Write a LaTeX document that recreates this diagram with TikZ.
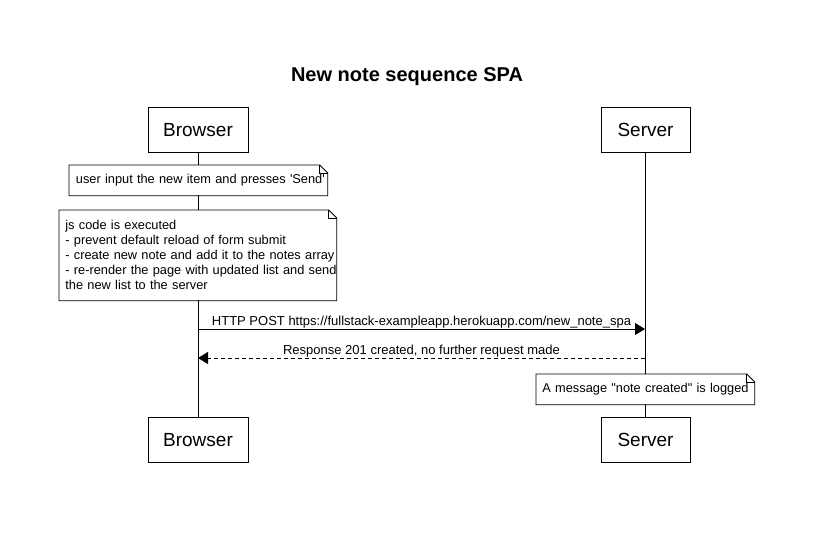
\documentclass[tikz,border=0pt]{standalone}
\usepackage{fontspec}
\setmainfont{Liberation Sans}
\usetikzlibrary{arrows.meta}

% folded corner of a note
\newcommand\notefold[1]{%
  \draw (#1.north west) -- ([xshift=-8pt]#1.north east) -- ([yshift=-8pt]#1.north east)
        -- (#1.south east) -- (#1.south west) -- cycle;
  \draw ([xshift=-8pt]#1.north east) -- ([xshift=-8pt,yshift=-8pt]#1.north east)
        -- ([yshift=-8pt]#1.north east);
}

\begin{document}
\begin{tikzpicture}[x=1pt, y=-1pt, line width=0.8pt,
    >={Triangle[length=10pt,width=12pt]},
    actor/.style={draw, fill=white, minimum width=100pt, minimum height=45pt,
                  inner sep=0pt, font=\fontsize{19}{22}\selectfont},
    note/.style={fill=white, anchor=north west, align=left, inner xsep=6pt,
                 inner ysep=0pt, font=\fontsize{12.8}{15}\selectfont},
    msg/.style={font=\fontsize{13}{15}\selectfont, inner sep=0.5pt}]
    \useasboundingbox (0,0) rectangle (823,542);

    % Title
    \node[font=\fontsize{20}{24}\selectfont\bfseries] (title) at (407,77) {New note sequence SPA};

    % Actors
    \node[actor] (btop) at (198,130) {Browser};
    \node[actor, minimum width=89pt] (stop) at (645.5,130) {Server};
    \node[actor] (bbot) at (198,440) {Browser};
    \node[actor, minimum width=89pt] (sbot) at (645.5,440) {Server};

    % Lifelines
    \draw (btop) -- (bbot);
    \draw (stop) -- (sbot);

    % Notes on the browser side
    \node[note, text width=245pt, minimum height=30pt, inner xsep=6.5pt] (input) at (69,165)
        {\mbox{user input the new item and presses \textquotesingle Send\textquotesingle}};
    \notefold{input}
    \node[note, text width=265pt, minimum height=90pt] (jscode) at (59,210)
        {\mbox{js code is executed}\\
         \mbox{- prevent default reload of form submit}\\
         \mbox{- create new note and add it to the notes array}\\
         \mbox{- re-render the page with updated list and send}\\
         \mbox{the new list to the server}};
    \notefold{jscode}

    % Messages
    \coordinate (b1) at (198,329);
    \coordinate (s1) at (645,329);
    \coordinate (b2) at (198,358);
    \coordinate (s2) at (645,358);
    \draw[->] (b1) -- (s1)
        node[msg, midway, above] {HTTP POST https://fullstack-exampleapp.herokuapp.com/new\_note\_spa};
    \draw[->, dash pattern=on 4pt off 3pt] (s2) -- (b2)
        node[msg, midway, above] {Response 201 created, no further request made};

    % Note on the server side
    \node[note, text width=206pt, minimum height=30pt] (logged) at (536,374)
        {\mbox{A message \textquotedbl note created\textquotedbl{} is logged}};
    \notefold{logged}
\end{tikzpicture}
\end{document}
